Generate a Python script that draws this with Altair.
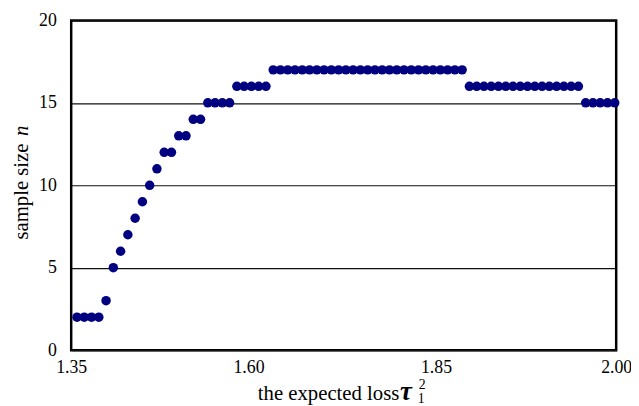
import altair as alt
import pandas as pd

# sample size n for each evaluated expected-loss value (equally spaced categories)
n_values = [2, 2, 2, 2, 3, 5, 6, 7, 8, 9, 10, 11, 12, 12, 13, 13, 14, 14,
            15, 15, 15, 15, 16, 16, 16, 16, 16,
            17, 17, 17, 17, 17, 17, 17, 17, 17, 17, 17, 17, 17, 17, 17, 17, 17,
            17, 17, 17, 17, 17, 17, 17, 17, 17, 17,
            16, 16, 16, 16, 16, 16, 16, 16, 16, 16, 16, 16, 16, 16, 16, 16,
            15, 15, 15, 15, 15]
point_index = list(range(len(n_values)))

# category-axis labels and where they sit (in category units)
x_tick_labels = ["1.35", "1.60", "1.85", "2.00"]
x_tick_positions = [-0.8, 23.6, 49.4, 74.2]
y_ticks = [0, 5, 10, 15, 20]

df = pd.DataFrame({"idx": point_index, "n": n_values})

label_expr = " : ".join(
    f"abs(datum.value - ({p})) < 0.01 ? '{l}'" for p, l in zip(x_tick_positions, x_tick_labels)
) + " : ''"

FONT = "Liberation Serif"
NAVY = "#000080"

points = alt.Chart(df).mark_circle(size=92, opacity=1, color=NAVY).encode(
    x=alt.X("idx:Q",
            scale=alt.Scale(domain=[x_tick_positions[0], x_tick_positions[-1]], nice=False, zero=False),
            axis=alt.Axis(values=x_tick_positions, labelExpr=label_expr, title=None,
                          grid=False, ticks=False, domain=False, labelFlush=False,
                          labelOverlap=False, labelFont=FONT, labelFontSize=18,
                          labelColor="black", labelPadding=9)),
    y=alt.Y("n:Q",
            scale=alt.Scale(domain=[0, 20], nice=False),
            axis=alt.Axis(values=y_ticks, title=None, grid=True, gridColor="#111111",
                          gridWidth=1.2, ticks=False, domain=False, labelFont=FONT,
                          labelFontSize=18, labelColor="black", labelPadding=15)),
)

one = pd.DataFrame({"a": [0]})

def txt(text, x, y, size, style="normal", weight="normal", angle=0, align="left"):
    return alt.Chart(one).mark_text(
        text=text, font=FONT, fontSize=size, fontStyle=style, fontWeight=weight,
        angle=angle, align=align, baseline="alphabetic", color="black"
    ).encode(x=alt.value(x), y=alt.value(y))

x_title = [
    txt("the expected loss", 189, 384, 21),
    txt("τ", 333, 384, 27, style="italic", weight="bold"),
    txt("2", 352, 373, 14),
    txt("1", 351, 388, 14),
]
y_title = [
    txt("sample size", -44, 222, 21, angle=270),
    txt("n", -44, 117, 21, style="italic", angle=270),
]

chart = alt.layer(points, *x_title, *y_title).properties(
    width=552, height=334,
    autosize=alt.AutoSizeParams(type="none"),
    padding={"left": 64, "top": 10, "right": 15, "bottom": 54},
).configure_view(stroke="black", strokeWidth=2.5)

chart.save("out.html", embed_options={"renderer": "svg", "actions": False})
